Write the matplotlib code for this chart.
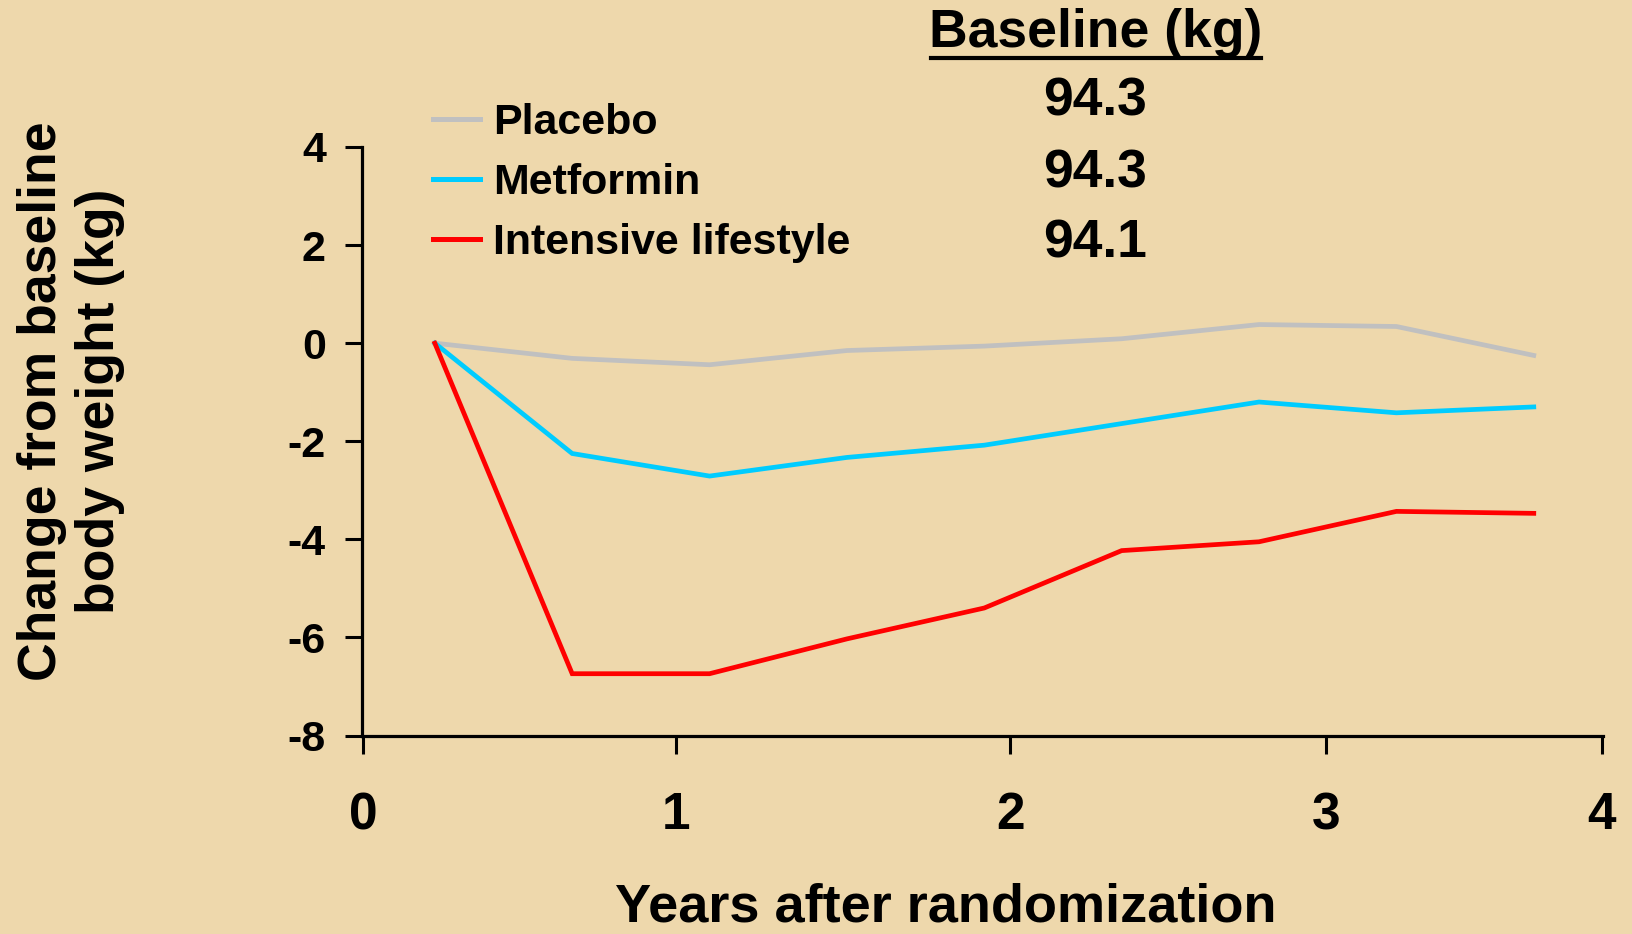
"""Change from baseline body weight by treatment arm."""

import matplotlib.pyplot as plt
from matplotlib.lines import Line2D

# Data
years = [0.0, 0.5, 1.0, 1.5, 2.0, 2.5, 3.0, 3.5, 4.0]
placebo = [0.0, -0.31, -0.44, -0.15, -0.06, 0.09, 0.38, 0.34, -0.25]
metformin = [0.0, -2.25, -2.71, -2.33, -2.08, -1.64, -1.20, -1.42, -1.30]
lifestyle = [0.0, -6.74, -6.74, -6.03, -5.40, -4.23, -4.05, -3.43, -3.47]

series_names = ["Placebo", "Metformin", "Intensive lifestyle"]
baseline_kg = ["94.3", "94.3", "94.1"]

x_tick_labels = ["0", "1", "2", "3", "4"]
y_ticks = [4, 2, 0, -2, -4, -6, -8]

# the source slide places the year ticks unevenly
x_tick_pos = [-0.262, 0.877, 2.094, 3.243, 4.247]

BG = "#EED8AC"
colors = ["#C0C0C0", "#00CCFF", "#FF0000"]

plt.rcParams["font.family"] = ["Liberation Sans", "DejaVu Sans"]
plt.rcParams["font.weight"] = "bold"

fig = plt.figure(figsize=(16.32, 9.34), dpi=100, facecolor=BG)
ax = fig.add_axes([362 / 1632, 1 - 735.5 / 934, 1241 / 1632, 588.5 / 934])
ax.set_facecolor(BG)

for vals, name, c in zip([placebo, metformin, lifestyle], series_names, colors):
    ax.plot(years, vals, color=c, linewidth=3.4, label=name, solid_joinstyle="miter")

ax.set_xlim(-0.265, 4.252)
ax.set_ylim(-8, 4)
ax.set_xticks(x_tick_pos)
ax.set_xticklabels(x_tick_labels, fontsize=37, fontweight="bold")
ax.set_yticks(y_ticks)
ax.set_yticklabels([str(t) for t in y_ticks], fontsize=31, fontweight="bold")
ax.tick_params(axis="y", direction="out", length=12, width=2.2, pad=14)
ax.tick_params(axis="x", direction="out", length=13, width=2.2, pad=27)

for side in ["top", "right"]:
    ax.spines[side].set_visible(False)
for side in ["left", "bottom"]:
    ax.spines[side].set_linewidth(2.3)

ax.set_ylabel("Change from baseline\nbody weight (kg)", fontsize=38.5,
              fontweight="bold", linespacing=1.2, va="center", ha="center",
              rotation_mode="default")
ax.yaxis.set_label_coords(-0.2345, 0.568)
ax.set_xlabel("Years after randomization", fontsize=39, fontweight="bold",
              va="baseline")
ax.xaxis.set_label_coords(0.4706, -0.316)

leg = ax.legend(loc="upper left", bbox_to_anchor=(71 / 1241, 1.075),
                frameon=False, fontsize=31, handlelength=1.1,
                handletextpad=0.3, labelspacing=0.47, borderaxespad=0,
                borderpad=0)
for h in leg.legend_handles:
    h.set_linewidth(3.6)
for t in leg.get_texts():
    t.set_fontweight("bold")

# baseline weights column
fig.text(1096 / 1632, 1 - 33 / 934, "Baseline (kg)", fontsize=38.5,
         fontweight="bold", ha="center", va="center")
fig.add_artist(Line2D([931 / 1632, 1261 / 1632], [1 - 58 / 934, 1 - 58 / 934],
                      color="black", linewidth=3, transform=fig.transFigure))
for yy, txt in zip([102, 174, 243], baseline_kg):
    fig.text(1095 / 1632, 1 - yy / 934, txt, fontsize=38.5, fontweight="bold",
             ha="center", va="center")

fig.savefig("out.png", dpi=100, facecolor=BG)
